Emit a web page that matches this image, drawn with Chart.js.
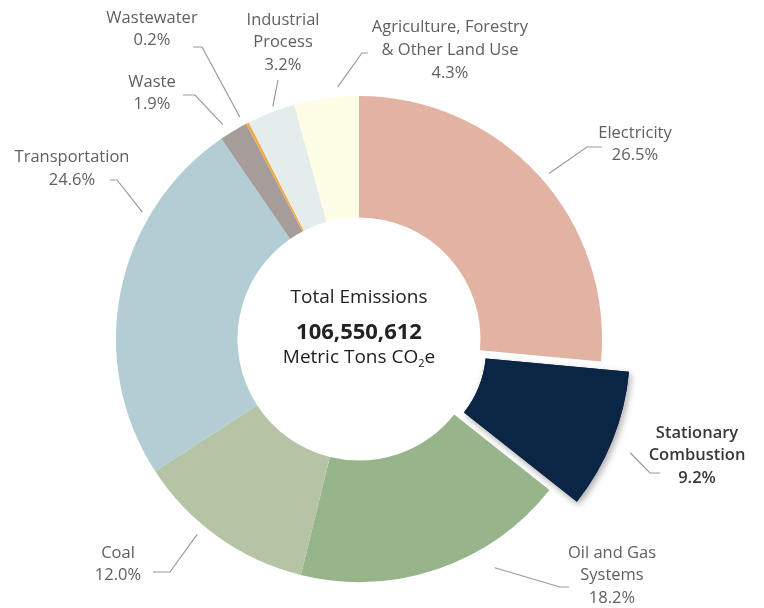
<!DOCTYPE html>
<html>
<head>
<meta charset="utf-8">
<title>Total Emissions</title>
<script src="https://cdn.jsdelivr.net/npm/chart.js@4.4.1/dist/chart.umd.min.js"></script>
<style>
    html, body { margin: 0; padding: 0; background: #fff; }
    #wrap { position: relative; width: 764px; height: 608px; }
</style>
</head>
<body>
<div id="wrap"><canvas id="emissionsChart" width="764" height="608"></canvas></div>
<script>
// Chart data
const categories = ['Electricity', 'Stationary Combustion', 'Oil and Gas Systems', 'Coal', 'Transportation',
    'Waste', 'Wastewater', 'Industrial Process', 'Agriculture, Forestry & Other Land Use'];
const shares = [26.5, 9.2, 18.2, 12.0, 24.6, 1.9, 0.2, 3.2, 4.3];
const labelLines = [['Electricity'], ['Stationary', 'Combustion'], ['Oil and Gas', 'Systems'], ['Coal'],
    ['Transportation'], ['Waste'], ['Wastewater'], ['Industrial', 'Process'], ['Agriculture, Forestry', '& Other Land Use']];
const totalEmissions = '106,550,612';

const sliceColors = ['#e2b3a2', '#0b2545', '#97b48a', '#b4c4a5', '#b2cdd4', '#a69c9a', '#f2a94a', '#e4edec', '#fefde6'];

// the pulled-out slice
const explodeIndex = 1;
const explodeDistance = 27;
const explodeInner = 102;
const explodeOuter = 246;

// label placement, px relative to the chart centre
const labelLayout = [
    { nudge: 1.3,   gap: 9,  elbow: [228, -192],  tail: 243,  text: [276, -206],  lh: 22 },
    { nudge: 1.0,   gap: 21, elbow: [291, 134],   tail: 301,  text: [338, 94],    lh: 22.5, bold: true },
    { nudge: -11.8, gap: 23, elbow: [201, 248],   tail: 210,  text: [253, 214],   lh: 22.5 },
    { nudge: 4.2,   gap: 11, elbow: [-189, 233],  tail: -206, text: [-241, 214],  lh: 22 },
    { nudge: 19.1,  gap: 8,  elbow: [-242, -159], tail: -249, text: [-287, -182], lh: 23 },
    { nudge: -1.3,  gap: 11, elbow: [-164, -244], tail: -176, text: [-207, -257], lh: 22 },
    { nudge: -0.9,  gap: 9,  elbow: [-157, -292], tail: -166, text: [-207, -321], lh: 22 },
    { nudge: 0.9,   gap: 5,  elbow: [-81, -259],  tail: -81,  text: [-76, -319],  lh: 22.5 },
    { nudge: 2.9,   gap: 10, elbow: [3, -286],    tail: 9,    text: [91, -312],   lh: 23 }
];

const FONT = "'Open Sans', sans-serif";

function chartCentre(chart) {
    const a = chart.chartArea;
    return { x: (a.left + a.right) / 2, y: (a.top + a.bottom) / 2 };
}

const explodePlugin = {
    id: 'explode',
    afterDatasetsUpdate(chart) {
        const arc = chart.getDatasetMeta(0).data[explodeIndex];
        const c = chartCentre(chart);
        const mid = (arc.startAngle + arc.endAngle) / 2;
        arc.x = c.x + Math.cos(mid) * explodeDistance;
        arc.y = c.y + Math.sin(mid) * explodeDistance;
        arc.innerRadius = explodeInner;
        arc.outerRadius = explodeOuter;
    },
    beforeDatasetsDraw(chart) {
        // soft shadow under the pulled-out slice
        const ctx = chart.ctx;
        const arc = chart.getDatasetMeta(0).data[explodeIndex];
        ctx.save();
        ctx.shadowColor = 'rgba(0, 0, 0, 0.35)';
        ctx.shadowBlur = 7;
        ctx.shadowOffsetX = 2;
        ctx.shadowOffsetY = 3;
        arc.draw(ctx);
        ctx.restore();
    }
};

const labelPlugin = {
    id: 'sliceLabels',
    afterDraw(chart) {
        const ctx = chart.ctx;
        const c = chartCentre(chart);
        const arcs = chart.getDatasetMeta(0).data;

        ctx.save();
        arcs.forEach((arc, i) => {
            const lay = labelLayout[i];
            const mid = (arc.startAngle + arc.endAngle) / 2 + lay.nudge * Math.PI / 180;
            const r = arc.outerRadius + lay.gap;
            const sx = arc.x + Math.cos(mid) * r;
            const sy = arc.y + Math.sin(mid) * r;

            // leader line
            ctx.strokeStyle = '#9a9a9a';
            ctx.lineWidth = 1.2;
            ctx.beginPath();
            ctx.moveTo(sx, sy);
            ctx.lineTo(c.x + lay.elbow[0], c.y + lay.elbow[1]);
            ctx.lineTo(c.x + lay.tail, c.y + lay.elbow[1]);
            ctx.stroke();

            // text
            const lines = labelLines[i].concat([shares[i].toFixed(1) + '%']);
            ctx.fillStyle = lay.bold ? '#383838' : '#606060';
            ctx.font = (lay.bold ? '600 ' : '') + '16.5px ' + FONT;
            ctx.textAlign = 'center';
            ctx.textBaseline = 'middle';
            lines.forEach((t, k) => {
                ctx.fillText(t, c.x + lay.text[0], c.y + lay.text[1] + k * lay.lh);
            });
        });

        // centre text
        ctx.fillStyle = '#222';
        ctx.textAlign = 'center';
        ctx.textBaseline = 'middle';
        ctx.font = '19px ' + FONT;
        ctx.fillText('Total Emissions', c.x, c.y - 41);
        ctx.font = 'bold 22px ' + FONT;
        ctx.fillText(totalEmissions, c.x, c.y - 6);

        const main = 'Metric Tons CO', sub = '2', tail = 'e';
        ctx.font = '19px ' + FONT;
        const w1 = ctx.measureText(main).width;
        const w3 = ctx.measureText(tail).width;
        ctx.font = '11px ' + FONT;
        const w2 = ctx.measureText(sub).width;
        const x = c.x - (w1 + w2 + w3) / 2;
        ctx.textAlign = 'left';
        ctx.font = '19px ' + FONT;
        ctx.fillText(main, x, c.y + 19);
        ctx.font = '11px ' + FONT;
        ctx.fillText(sub, x + w1, c.y + 25);
        ctx.font = '19px ' + FONT;
        ctx.fillText(tail, x + w1 + w2, c.y + 19);
        ctx.restore();
    }
};

new Chart(document.getElementById('emissionsChart'), {
    type: 'doughnut',
    data: {
        labels: categories,
        datasets: [{
            data: shares,
            backgroundColor: sliceColors,
            borderWidth: 0
        }]
    },
    options: {
        responsive: false,
        animation: false,
        radius: 243,
        cutout: '50%',
        layout: { padding: { left: 0, right: 46, top: 70, bottom: 0 } },
        plugins: {
            legend: { display: false },
            tooltip: { enabled: false }
        }
    },
    plugins: [explodePlugin, labelPlugin]
});
</script>
</body>
</html>
